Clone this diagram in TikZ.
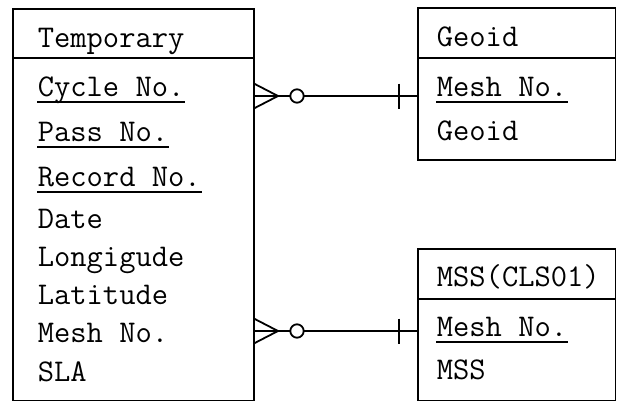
\documentclass[tikz,border=0pt]{standalone}
\usepackage{fontspec}
\usetikzlibrary{calc, positioning}

\tikzset{
  entity/.style={draw, line width=0.9pt, inner sep=0pt, anchor=north west},
  attr/.style={anchor=base west, inner sep=0pt, font=\ttfamily\fontsize{15.8}{19}\selectfont},
}

\begin{document}
\begin{tikzpicture}[x=0.5pt, y=-0.5pt, line width=0.9pt]
        \useasboundingbox (0,0) rectangle (619,401);

        % entities
        \node (tmp) [entity, minimum width=120.5pt, minimum height=195.75pt] at (12,8) {};
        \node (geoid) [entity, minimum width=98.75pt, minimum height=75.75pt] at (417,7.5) {};
        \node (mss) [entity, minimum width=98.75pt, minimum height=75.6pt] at (417,248.3) {};

        \draw (tmp.west |- 0,58) -- (tmp.east |- 0,58);
        \draw (geoid.west |- 0,58) -- (geoid.east |- 0,58);
        \draw (mss.west |- 0,299.3) -- (mss.east |- 0,299.3);

        % attributes
        \node (tname) [attr] at (37,47) {Temporary};
        \node (cyc) [attr] at (37,96.5) {Cycle No.};
        \node (pass) [attr] at (37,141.7) {Pass No.};
        \node (rec) [attr] at (37,186.7) {Record No.};
        \node (date) [attr] at (37,228) {Date};
        \node (lon) [attr] at (37,266) {Longigude};
        \node (lat) [attr] at (37,304) {Latitude};
        \node (tmesh) [attr] at (37,342.7) {Mesh No.};
        \node (sla) [attr] at (37,381.7) {SLA};

        \node (gname) [attr] at (436,46.7) {Geoid};
        \node (gmesh) [attr] at (436,96.7) {Mesh No.};
        \node (gval) [attr] at (436,140) {Geoid};

        \node (mname) [attr] at (436,286.7) {MSS(CLS01)};
        \node (mmesh) [attr] at (436,336.7) {Mesh No.};
        \node (mval) [attr] at (436,379.3) {MSS};

        % keys
        \foreach \n in {cyc, pass, rec, gmesh, mmesh}
          \draw ([yshift=-2.6pt]\n.base west) -- ([yshift=-2.6pt]\n.base east);

        % relationships: many (optional) to one
        \draw (tmp.east |- 0,96) -- (geoid.west |- 0,96);
        \draw (tmp.east |- 0,331) -- (mss.west |- 0,331);
        \foreach \y in {96, 331} {
          \draw (tmp.east |- 0,\y-12) -- (278,\y) -- (tmp.east |- 0,\y+12);
          \draw[fill=white] (297,\y) circle (6.7);
          \draw (399,\y-12.5) -- (399,\y+12.5);
        }

        \end{tikzpicture}
\end{document}
